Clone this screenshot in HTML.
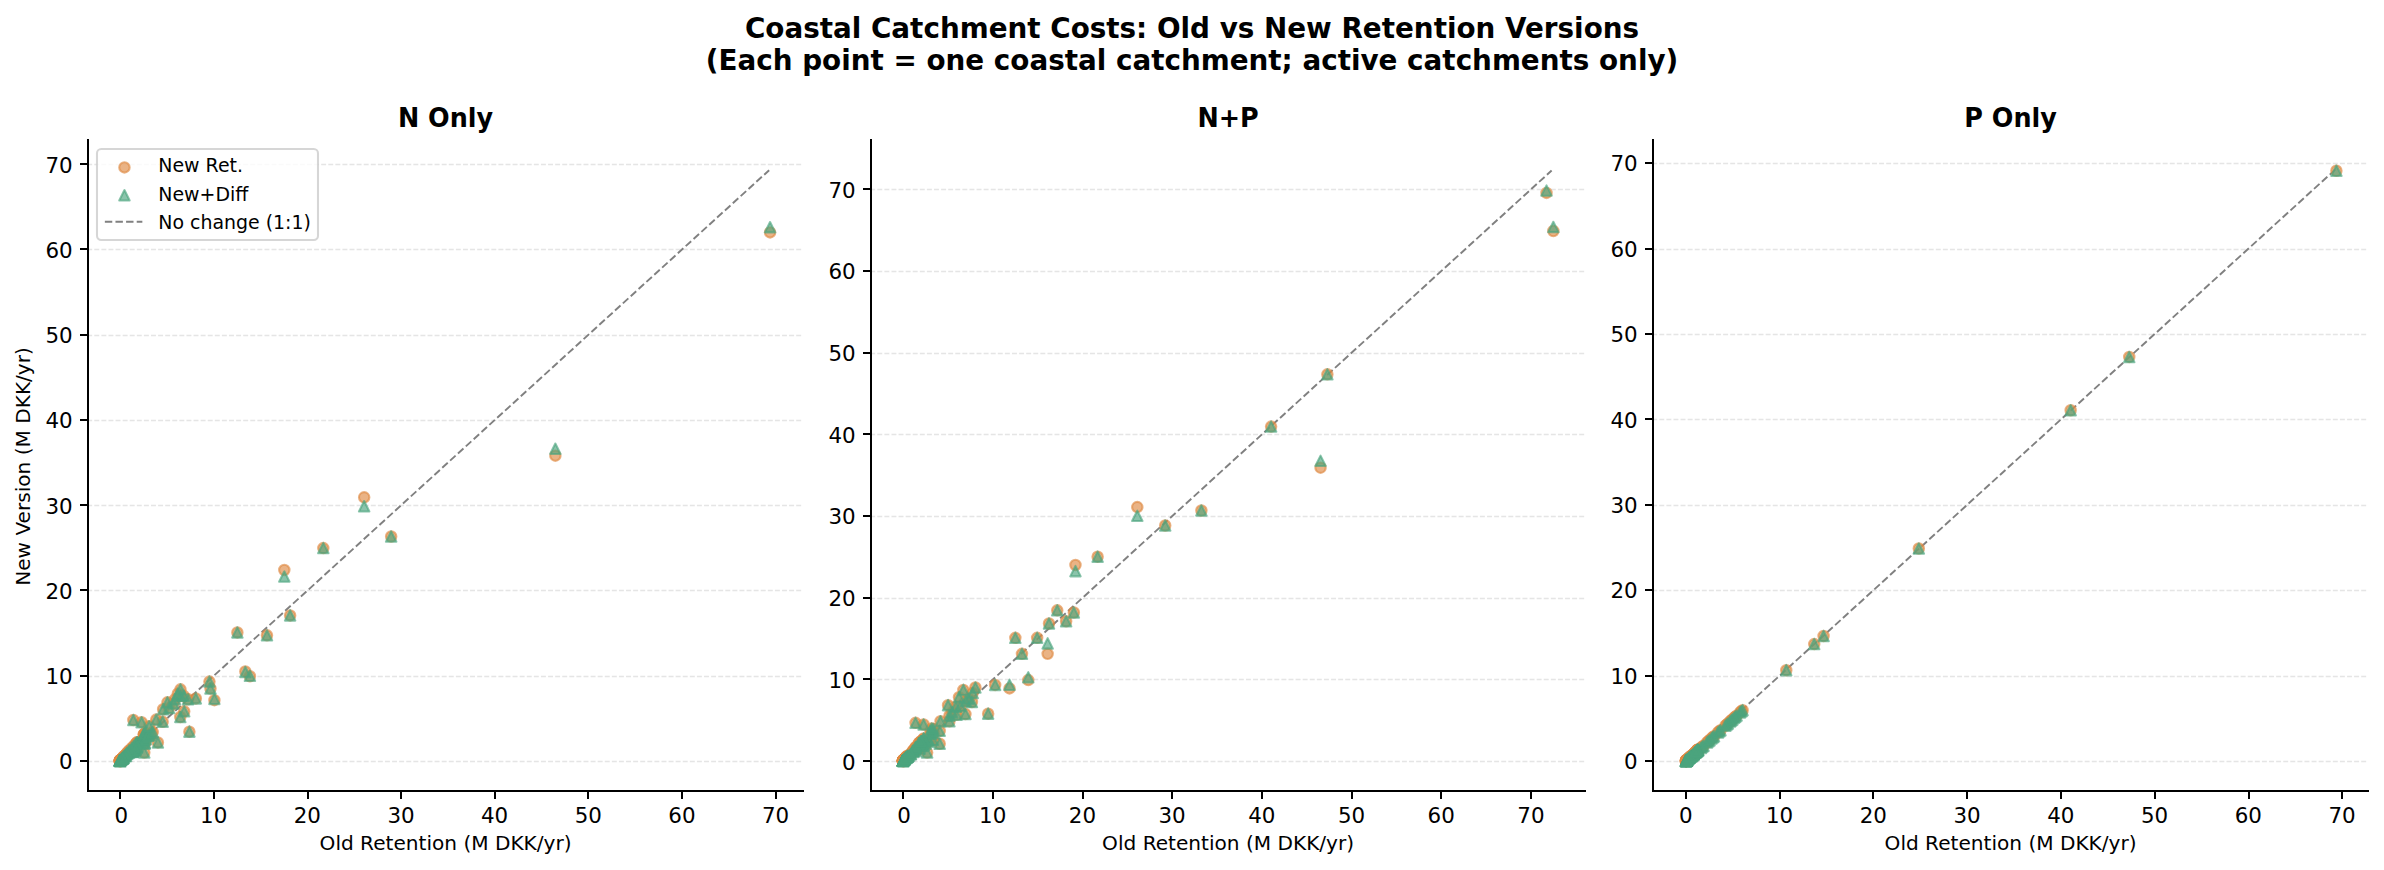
<!DOCTYPE html>
<html lang="en"><head><meta charset="utf-8"><title>Coastal Catchment Costs: Old vs New Retention Versions</title>
<style>html,body{margin:0;padding:0;background:#fff;}body{width:2384px;height:870px;overflow:hidden;}svg{display:block;}</style>
</head><body>
<svg width="2384" height="870" viewBox="0 0 2384 870" font-family='"DejaVu Sans", "Liberation Sans", sans-serif'>
<rect width="2384" height="870" fill="#fff"/>
<g font-weight="bold" font-size="27.8" text-anchor="middle" fill="#000">
<text x="1192" y="37.6">Coastal Catchment Costs: Old vs New Retention Versions</text>
<text x="1192" y="69.8">(Each point = one coastal catchment; active catchments only)</text>
</g>
<g id="panel1">
<g stroke="#b0b0b0" stroke-opacity="0.33" stroke-width="1.33" stroke-dasharray="4.95 2.14" fill="none">
<path d="M87.2 761.5H803.1"/>
<path d="M87.2 676.5H803.1"/>
<path d="M87.2 590.5H803.1"/>
<path d="M87.2 505.5H803.1"/>
<path d="M87.2 420.5H803.1"/>
<path d="M87.2 335.5H803.1"/>
<path d="M87.2 249.5H803.1"/>
<path d="M87.2 164.5H803.1"/>
</g>
<path d="M120.3 760.95L769.16 170.17" stroke="#808080" stroke-width="1.92" stroke-dasharray="7.42 3.2" fill="none"/>
<g fill="#DE8B44" stroke="#DE8B44" fill-opacity="0.65" stroke-opacity="0.65" stroke-width="2.08">
<circle cx="180.67" cy="695.84" r="5.21"/>
<circle cx="175.04" cy="699.25" r="5.21"/>
<circle cx="122.19" cy="758.47" r="5.21"/>
<circle cx="125.09" cy="755.74" r="5.21"/>
<circle cx="133.43" cy="751.23" r="5.21"/>
<circle cx="119.75" cy="760.6" r="5.21"/>
<circle cx="122.56" cy="758.47" r="5.21"/>
<circle cx="151.33" cy="733.42" r="5.21"/>
<circle cx="142.9" cy="740.66" r="5.21"/>
<circle cx="134" cy="750.37" r="5.21"/>
<circle cx="133.81" cy="746.03" r="5.21"/>
<circle cx="129.68" cy="750.89" r="5.21"/>
<circle cx="135.31" cy="749.95" r="5.21"/>
<circle cx="139.15" cy="742.96" r="5.21"/>
<circle cx="123.41" cy="758.13" r="5.21"/>
<circle cx="144.3" cy="739.47" r="5.21"/>
<circle cx="137.37" cy="742.37" r="5.21"/>
<circle cx="137.09" cy="742.19" r="5.21"/>
<circle cx="125.75" cy="754.55" r="5.21"/>
<circle cx="127.15" cy="752.76" r="5.21"/>
<circle cx="144.96" cy="742.96" r="5.21"/>
<circle cx="120.59" cy="759.92" r="5.21"/>
<circle cx="149.65" cy="735.29" r="5.21"/>
<circle cx="133.53" cy="749.78" r="5.21"/>
<circle cx="129.12" cy="752.85" r="5.21"/>
<circle cx="124.62" cy="756.17" r="5.21"/>
<circle cx="131.84" cy="747.9" r="5.21"/>
<circle cx="135.78" cy="743.64" r="5.21"/>
<circle cx="143.84" cy="734.36" r="5.21"/>
<circle cx="135.31" cy="749.35" r="5.21"/>
<circle cx="144.12" cy="734.44" r="5.21"/>
<circle cx="146.37" cy="736.57" r="5.21"/>
<circle cx="137.09" cy="747.65" r="5.21"/>
<circle cx="142.62" cy="739.89" r="5.21"/>
<circle cx="123.03" cy="758.3" r="5.21"/>
<circle cx="143.74" cy="734.53" r="5.21"/>
<circle cx="120.12" cy="760.17" r="5.21"/>
<circle cx="126.12" cy="756" r="5.21"/>
<circle cx="123.31" cy="757.11" r="5.21"/>
<circle cx="144.68" cy="743.81" r="5.21"/>
<circle cx="133.06" cy="751.65" r="5.21"/>
<circle cx="137.28" cy="746.54" r="5.21"/>
<circle cx="145.15" cy="733.16" r="5.21"/>
<circle cx="129.12" cy="750.46" r="5.21"/>
<circle cx="123.59" cy="757.96" r="5.21"/>
<circle cx="132.4" cy="752.08" r="5.21"/>
<circle cx="121.44" cy="759.15" r="5.21"/>
<circle cx="132.87" cy="751.14" r="5.21"/>
<circle cx="119.84" cy="760.51" r="5.21"/>
<circle cx="123.69" cy="756.34" r="5.21"/>
<circle cx="145.9" cy="739.13" r="5.21"/>
<circle cx="127.62" cy="753.61" r="5.21"/>
<circle cx="134.18" cy="747.39" r="5.21"/>
<circle cx="130.9" cy="750.2" r="5.21"/>
<circle cx="148.33" cy="735.63" r="5.21"/>
<circle cx="126.78" cy="753.78" r="5.21"/>
<circle cx="122.19" cy="758.73" r="5.21"/>
<circle cx="119.75" cy="760.6" r="5.21"/>
<circle cx="119.75" cy="760.6" r="5.21"/>
<circle cx="119.75" cy="760.6" r="5.21"/>
<circle cx="119.75" cy="760.6" r="5.21"/>
<circle cx="120.69" cy="760.17" r="5.21"/>
<circle cx="121.62" cy="759.75" r="5.21"/>
<circle cx="120.22" cy="761.45" r="5.21"/>
<circle cx="122.56" cy="758.47" r="5.21"/>
<circle cx="770.07" cy="232.38" r="5.21"/>
<circle cx="555.36" cy="455.63" r="5.21"/>
<circle cx="364.17" cy="497.3" r="5.21"/>
<circle cx="391.16" cy="536.5" r="5.21"/>
<circle cx="323.31" cy="548.09" r="5.21"/>
<circle cx="284.32" cy="569.99" r="5.21"/>
<circle cx="290.13" cy="615.4" r="5.21"/>
<circle cx="237.37" cy="632.44" r="5.21"/>
<circle cx="266.98" cy="635.34" r="5.21"/>
<circle cx="245.33" cy="671.39" r="5.21"/>
<circle cx="249.93" cy="676.24" r="5.21"/>
<circle cx="209.44" cy="681.61" r="5.21"/>
<circle cx="210.47" cy="688.51" r="5.21"/>
<circle cx="214.41" cy="700.19" r="5.21"/>
<circle cx="180.48" cy="689.36" r="5.21"/>
<circle cx="195.85" cy="698.4" r="5.21"/>
<circle cx="177.76" cy="693.71" r="5.21"/>
<circle cx="183.76" cy="695.84" r="5.21"/>
<circle cx="188.07" cy="699.33" r="5.21"/>
<circle cx="167.45" cy="702.32" r="5.21"/>
<circle cx="173.45" cy="703.59" r="5.21"/>
<circle cx="163.14" cy="709.22" r="5.21"/>
<circle cx="169.14" cy="707.94" r="5.21"/>
<circle cx="184.23" cy="711.35" r="5.21"/>
<circle cx="180.29" cy="716.97" r="5.21"/>
<circle cx="189.38" cy="731.63" r="5.21"/>
<circle cx="156.21" cy="719.61" r="5.21"/>
<circle cx="162.67" cy="721.74" r="5.21"/>
<circle cx="152.74" cy="732.05" r="5.21"/>
<circle cx="157.89" cy="742.45" r="5.21"/>
<circle cx="144.3" cy="752.51" r="5.21"/>
<circle cx="133.34" cy="720.04" r="5.21"/>
<circle cx="141.59" cy="722.26" r="5.21"/>
<circle cx="149.18" cy="726.26" r="5.21"/>
</g>
<g fill="#4CA47E" stroke="#4CA47E" fill-opacity="0.65" stroke-opacity="0.65" stroke-width="2.08" stroke-linejoin="round">
<path d="M180.67 690.63L175.46 701.05L185.88 701.05Z"/>
<path d="M175.04 694.04L169.84 704.46L180.25 704.46Z"/>
<path d="M122.19 753.26L116.98 763.68L127.4 763.68Z"/>
<path d="M125.09 750.53L119.88 760.95L130.3 760.95Z"/>
<path d="M133.43 746.02L128.22 756.44L138.64 756.44Z"/>
<path d="M119.75 755.39L114.54 765.81L124.96 765.81Z"/>
<path d="M122.56 753.26L117.35 763.68L127.77 763.68Z"/>
<path d="M151.33 728.21L146.13 738.63L156.54 738.63Z"/>
<path d="M142.9 735.45L137.69 745.87L148.11 745.87Z"/>
<path d="M134 745.17L128.79 755.58L139.2 755.58Z"/>
<path d="M133.81 740.82L128.6 751.24L139.02 751.24Z"/>
<path d="M129.68 745.68L124.48 756.09L134.89 756.09Z"/>
<path d="M135.31 744.74L130.1 755.16L140.52 755.16Z"/>
<path d="M139.15 737.75L133.94 748.17L144.36 748.17Z"/>
<path d="M123.41 752.92L118.2 763.34L128.61 763.34Z"/>
<path d="M144.3 734.26L139.1 744.68L149.51 744.68Z"/>
<path d="M137.37 737.16L132.16 747.57L142.58 747.57Z"/>
<path d="M137.09 736.99L131.88 747.4L142.3 747.4Z"/>
<path d="M125.75 749.34L120.54 759.76L130.96 759.76Z"/>
<path d="M127.15 747.55L121.95 757.97L132.36 757.97Z"/>
<path d="M144.96 737.75L139.75 748.17L150.17 748.17Z"/>
<path d="M120.59 754.71L115.39 765.13L125.8 765.13Z"/>
<path d="M149.65 730.08L144.44 740.5L154.86 740.5Z"/>
<path d="M133.53 744.57L128.32 754.99L138.74 754.99Z"/>
<path d="M129.12 747.64L123.91 758.05L134.33 758.05Z"/>
<path d="M124.62 750.96L119.42 761.38L129.83 761.38Z"/>
<path d="M131.84 742.7L126.63 753.11L137.05 753.11Z"/>
<path d="M135.78 738.43L130.57 748.85L140.98 748.85Z"/>
<path d="M143.84 729.15L138.63 739.56L149.04 739.56Z"/>
<path d="M135.31 744.14L130.1 754.56L140.52 754.56Z"/>
<path d="M144.12 729.23L138.91 739.65L149.33 739.65Z"/>
<path d="M146.37 731.36L141.16 741.78L151.57 741.78Z"/>
<path d="M137.09 742.44L131.88 752.86L142.3 752.86Z"/>
<path d="M142.62 734.69L137.41 745.1L147.83 745.1Z"/>
<path d="M123.03 753.09L117.82 763.51L128.24 763.51Z"/>
<path d="M143.74 729.32L138.53 739.73L148.95 739.73Z"/>
<path d="M120.12 754.97L114.92 765.38L125.33 765.38Z"/>
<path d="M126.12 750.79L120.91 761.21L131.33 761.21Z"/>
<path d="M123.31 751.9L118.1 762.31L128.52 762.31Z"/>
<path d="M144.68 738.61L139.47 749.02L149.89 749.02Z"/>
<path d="M133.06 746.44L127.85 756.86L138.27 756.86Z"/>
<path d="M137.28 741.33L132.07 751.75L142.48 751.75Z"/>
<path d="M145.15 727.95L139.94 738.37L150.36 738.37Z"/>
<path d="M129.12 745.25L123.91 755.67L134.33 755.67Z"/>
<path d="M123.59 752.75L118.38 763.17L128.8 763.17Z"/>
<path d="M132.4 746.87L127.19 757.29L137.61 757.29Z"/>
<path d="M121.44 753.94L116.23 764.36L126.65 764.36Z"/>
<path d="M132.87 745.93L127.66 756.35L138.08 756.35Z"/>
<path d="M119.84 755.31L114.64 765.72L125.05 765.72Z"/>
<path d="M123.69 751.13L118.48 761.55L128.89 761.55Z"/>
<path d="M145.9 733.92L140.69 744.34L151.11 744.34Z"/>
<path d="M127.62 748.4L122.41 758.82L132.83 758.82Z"/>
<path d="M134.18 742.18L128.97 752.6L139.39 752.6Z"/>
<path d="M130.9 745L125.69 755.41L136.11 755.41Z"/>
<path d="M148.33 730.43L143.13 740.84L153.54 740.84Z"/>
<path d="M126.78 748.57L121.57 758.99L131.99 758.99Z"/>
<path d="M122.19 753.52L116.98 763.93L127.4 763.93Z"/>
<path d="M119.75 755.39L114.54 765.81L124.96 765.81Z"/>
<path d="M119.75 755.39L114.54 765.81L124.96 765.81Z"/>
<path d="M119.75 755.39L114.54 765.81L124.96 765.81Z"/>
<path d="M119.75 755.39L114.54 765.81L124.96 765.81Z"/>
<path d="M120.69 754.97L115.48 765.38L125.9 765.38Z"/>
<path d="M121.62 754.54L116.42 764.96L126.83 764.96Z"/>
<path d="M120.22 756.24L115.01 766.66L125.43 766.66Z"/>
<path d="M122.56 753.26L117.35 763.68L127.77 763.68Z"/>
<path d="M770.07 221.98L764.86 232.39L775.28 232.39Z"/>
<path d="M555.36 443.52L550.15 453.94L560.57 453.94Z"/>
<path d="M364.17 501.04L358.96 511.46L369.38 511.46Z"/>
<path d="M391.16 531.29L385.95 541.71L396.37 541.71Z"/>
<path d="M323.31 542.88L318.1 553.29L328.52 553.29Z"/>
<path d="M284.32 571.34L279.11 581.75L289.53 581.75Z"/>
<path d="M290.13 610.19L284.92 620.61L295.34 620.61Z"/>
<path d="M237.37 627.24L232.16 637.65L242.58 637.65Z"/>
<path d="M266.98 630.13L261.78 640.55L272.19 640.55Z"/>
<path d="M245.33 666.77L240.13 677.19L250.54 677.19Z"/>
<path d="M249.93 670.61L244.72 681.02L255.14 681.02Z"/>
<path d="M209.44 676.4L204.23 686.82L214.65 686.82Z"/>
<path d="M210.47 683.3L205.26 693.72L215.68 693.72Z"/>
<path d="M214.41 693.7L209.2 704.12L219.62 704.12Z"/>
<path d="M180.48 684.16L175.27 694.57L185.69 694.57Z"/>
<path d="M195.85 693.19L190.64 703.61L201.06 703.61Z"/>
<path d="M177.76 688.5L172.55 698.92L182.97 698.92Z"/>
<path d="M183.76 690.63L178.55 701.05L188.97 701.05Z"/>
<path d="M188.07 694.13L182.86 704.54L193.28 704.54Z"/>
<path d="M167.45 697.11L162.25 707.52L172.66 707.52Z"/>
<path d="M173.45 698.39L168.24 708.8L178.66 708.8Z"/>
<path d="M163.14 704.01L157.93 714.43L168.35 714.43Z"/>
<path d="M169.14 702.73L163.93 713.15L174.35 713.15Z"/>
<path d="M184.23 706.14L179.02 716.56L189.44 716.56Z"/>
<path d="M180.29 711.76L175.08 722.18L185.5 722.18Z"/>
<path d="M189.38 726.42L184.18 736.84L194.59 736.84Z"/>
<path d="M156.21 714.41L151 724.82L161.42 724.82Z"/>
<path d="M162.67 716.54L157.47 726.95L167.88 726.95Z"/>
<path d="M152.74 726.85L147.53 737.26L157.95 737.26Z"/>
<path d="M157.89 737.24L152.69 747.66L163.1 747.66Z"/>
<path d="M144.3 747.3L139.1 757.71L149.51 757.71Z"/>
<path d="M133.34 714.83L128.13 725.25L138.55 725.25Z"/>
<path d="M141.59 717.05L136.38 727.46L146.8 727.46Z"/>
<path d="M149.18 721.05L143.97 731.47L154.39 731.47Z"/>
</g>
<g stroke="#000" stroke-width="2" fill="none">
<path d="M88 139V792"/>
<path d="M87 791H804"/>
</g>
<g stroke="#000" stroke-width="2" fill="none">
<path d="M120 791v8"/>
<path d="M214 791v8"/>
<path d="M308 791v8"/>
<path d="M401 791v8"/>
<path d="M495 791v8"/>
<path d="M588 791v8"/>
<path d="M682 791v8"/>
<path d="M776 791v8"/>
<path d="M88 761h-8"/>
<path d="M88 676h-8"/>
<path d="M88 590h-8"/>
<path d="M88 505h-8"/>
<path d="M88 420h-8"/>
<path d="M88 335h-8"/>
<path d="M88 249h-8"/>
<path d="M88 164h-8"/>
</g>
<g font-size="21.4" fill="#000">
<g text-anchor="middle">
<text x="121.2" y="822.8">0</text>
<text x="213.73" y="822.8">10</text>
<text x="307.36" y="822.8">20</text>
<text x="400.99" y="822.8">30</text>
<text x="494.62" y="822.8">40</text>
<text x="588.25" y="822.8">50</text>
<text x="681.88" y="822.8">60</text>
<text x="775.51" y="822.8">70</text>
</g>
<g text-anchor="end">
<text x="72.6" y="768.85">0</text>
<text x="72.6" y="683.85">10</text>
<text x="72.6" y="598.85">20</text>
<text x="72.6" y="513.85">30</text>
<text x="72.6" y="427.85">40</text>
<text x="72.6" y="342.85">50</text>
<text x="72.6" y="257.85">60</text>
<text x="72.6" y="172.85">70</text>
</g></g>
<text transform="translate(445.55 126.9) scale(1 1.07)" font-size="25.45" font-weight="bold" text-anchor="middle">N Only</text>
<text x="445.55" y="849.8" font-size="20.1" text-anchor="middle">Old Retention (M DKK/yr)</text>
<text transform="translate(30 466.5) rotate(-90)" font-size="20.1" text-anchor="middle">New Version (M DKK/yr)</text>
</g>
<g id="panel2">
<g stroke="#b0b0b0" stroke-opacity="0.33" stroke-width="1.33" stroke-dasharray="4.95 2.14" fill="none">
<path d="M870.2 761.5H1585.2"/>
<path d="M870.2 679.5H1585.2"/>
<path d="M870.2 598.5H1585.2"/>
<path d="M870.2 516.5H1585.2"/>
<path d="M870.2 434.5H1585.2"/>
<path d="M870.2 353.5H1585.2"/>
<path d="M870.2 271.5H1585.2"/>
<path d="M870.2 189.5H1585.2"/>
</g>
<path d="M903.2 761.2L1551.64 170.52" stroke="#808080" stroke-width="1.92" stroke-dasharray="7.42 3.2" fill="none"/>
<g fill="#DE8B44" stroke="#DE8B44" fill-opacity="0.65" stroke-opacity="0.65" stroke-width="2.08">
<circle cx="965.72" cy="700.99" r="5.21"/>
<circle cx="960.33" cy="705.89" r="5.21"/>
<circle cx="952.26" cy="712.42" r="5.21"/>
<circle cx="916.27" cy="747.37" r="5.21"/>
<circle cx="923.72" cy="738.39" r="5.21"/>
<circle cx="921.21" cy="741.25" r="5.21"/>
<circle cx="902.99" cy="760.52" r="5.21"/>
<circle cx="931.17" cy="733.82" r="5.21"/>
<circle cx="928.92" cy="741.65" r="5.21"/>
<circle cx="910.98" cy="754.31" r="5.21"/>
<circle cx="913.4" cy="750.96" r="5.21"/>
<circle cx="902.9" cy="760.6" r="5.21"/>
<circle cx="906.04" cy="757.25" r="5.21"/>
<circle cx="922.28" cy="746.06" r="5.21"/>
<circle cx="923.81" cy="745.17" r="5.21"/>
<circle cx="916.09" cy="750.88" r="5.21"/>
<circle cx="902.9" cy="760.6" r="5.21"/>
<circle cx="904.78" cy="759.13" r="5.21"/>
<circle cx="933.32" cy="729" r="5.21"/>
<circle cx="906.31" cy="757.01" r="5.21"/>
<circle cx="913.22" cy="750.72" r="5.21"/>
<circle cx="904.69" cy="758.64" r="5.21"/>
<circle cx="919.05" cy="743.21" r="5.21"/>
<circle cx="928.57" cy="739.94" r="5.21"/>
<circle cx="907.93" cy="756.84" r="5.21"/>
<circle cx="903.89" cy="759.87" r="5.21"/>
<circle cx="906.49" cy="757.25" r="5.21"/>
<circle cx="902.9" cy="760.6" r="5.21"/>
<circle cx="907.39" cy="757.01" r="5.21"/>
<circle cx="924.8" cy="741.33" r="5.21"/>
<circle cx="906.85" cy="757.17" r="5.21"/>
<circle cx="919.59" cy="748.76" r="5.21"/>
<circle cx="932.87" cy="739.86" r="5.21"/>
<circle cx="921.57" cy="741.33" r="5.21"/>
<circle cx="902.9" cy="760.6" r="5.21"/>
<circle cx="908.02" cy="755.86" r="5.21"/>
<circle cx="902.9" cy="760.6" r="5.21"/>
<circle cx="904.34" cy="759.05" r="5.21"/>
<circle cx="904.61" cy="758.97" r="5.21"/>
<circle cx="930.45" cy="731.2" r="5.21"/>
<circle cx="907.48" cy="756.76" r="5.21"/>
<circle cx="912.77" cy="750.8" r="5.21"/>
<circle cx="903.44" cy="760.03" r="5.21"/>
<circle cx="923.81" cy="738.96" r="5.21"/>
<circle cx="902.99" cy="760.52" r="5.21"/>
<circle cx="903.35" cy="760.27" r="5.21"/>
<circle cx="915.82" cy="746.88" r="5.21"/>
<circle cx="907.39" cy="755.78" r="5.21"/>
<circle cx="913.4" cy="752.03" r="5.21"/>
<circle cx="906.85" cy="757.58" r="5.21"/>
<circle cx="903.26" cy="760.36" r="5.21"/>
<circle cx="918.96" cy="743.04" r="5.21"/>
<circle cx="904.07" cy="759.78" r="5.21"/>
<circle cx="933.59" cy="733" r="5.21"/>
<circle cx="909.09" cy="755.78" r="5.21"/>
<circle cx="915.19" cy="748.02" r="5.21"/>
<circle cx="910.53" cy="754.07" r="5.21"/>
<circle cx="903.08" cy="760.44" r="5.21"/>
<circle cx="902.99" cy="760.52" r="5.21"/>
<circle cx="925.78" cy="743.78" r="5.21"/>
<circle cx="920.76" cy="741.41" r="5.21"/>
<circle cx="902.9" cy="760.6" r="5.21"/>
<circle cx="902.9" cy="760.6" r="5.21"/>
<circle cx="902.9" cy="760.6" r="5.21"/>
<circle cx="902.9" cy="760.6" r="5.21"/>
<circle cx="903.8" cy="760.19" r="5.21"/>
<circle cx="904.69" cy="759.78" r="5.21"/>
<circle cx="903.35" cy="761.42" r="5.21"/>
<circle cx="905.59" cy="758.56" r="5.21"/>
<circle cx="1546.52" cy="192.9" r="5.21"/>
<circle cx="1553.34" cy="231.03" r="5.21"/>
<circle cx="1327.37" cy="374.35" r="5.21"/>
<circle cx="1271.1" cy="426.61" r="5.21"/>
<circle cx="1320.55" cy="467.69" r="5.21"/>
<circle cx="1137.3" cy="507.05" r="5.21"/>
<circle cx="1165.21" cy="525.5" r="5.21"/>
<circle cx="1201.38" cy="510.48" r="5.21"/>
<circle cx="1097.64" cy="556.69" r="5.21"/>
<circle cx="1075.47" cy="565.02" r="5.21"/>
<circle cx="1057.25" cy="610.35" r="5.21"/>
<circle cx="1073.85" cy="612.47" r="5.21"/>
<circle cx="1066.14" cy="621.29" r="5.21"/>
<circle cx="1049" cy="623.49" r="5.21"/>
<circle cx="1015.34" cy="637.87" r="5.21"/>
<circle cx="1037.15" cy="637.87" r="5.21"/>
<circle cx="1047.65" cy="653.87" r="5.21"/>
<circle cx="1021.98" cy="653.87" r="5.21"/>
<circle cx="1028.27" cy="680.08" r="5.21"/>
<circle cx="1009.51" cy="688.41" r="5.21"/>
<circle cx="995.15" cy="684.9" r="5.21"/>
<circle cx="988.15" cy="713.65" r="5.21"/>
<circle cx="975.41" cy="687.51" r="5.21"/>
<circle cx="963.38" cy="689.88" r="5.21"/>
<circle cx="972.72" cy="693.07" r="5.21"/>
<circle cx="958.99" cy="697.15" r="5.21"/>
<circle cx="968.68" cy="698.7" r="5.21"/>
<circle cx="971.91" cy="701.97" r="5.21"/>
<circle cx="948.04" cy="705.15" r="5.21"/>
<circle cx="955.85" cy="706.7" r="5.21"/>
<circle cx="965.45" cy="714.05" r="5.21"/>
<circle cx="949.39" cy="715.69" r="5.21"/>
<circle cx="956.56" cy="714.87" r="5.21"/>
<circle cx="940.5" cy="721.24" r="5.21"/>
<circle cx="949.39" cy="721.24" r="5.21"/>
<circle cx="915.55" cy="722.87" r="5.21"/>
<circle cx="923.63" cy="724.51" r="5.21"/>
<circle cx="931.62" cy="728.51" r="5.21"/>
<circle cx="939.69" cy="730.88" r="5.21"/>
<circle cx="939.69" cy="743.78" r="5.21"/>
<circle cx="927.13" cy="752.6" r="5.21"/>
</g>
<g fill="#4CA47E" stroke="#4CA47E" fill-opacity="0.65" stroke-opacity="0.65" stroke-width="2.08" stroke-linejoin="round">
<path d="M965.72 695.78L960.51 706.2L970.93 706.2Z"/>
<path d="M960.33 700.68L955.13 711.1L965.54 711.1Z"/>
<path d="M952.26 707.21L947.05 717.63L957.47 717.63Z"/>
<path d="M916.27 742.16L911.06 752.58L921.48 752.58Z"/>
<path d="M923.72 733.18L918.51 743.6L928.93 743.6Z"/>
<path d="M921.21 736.04L916 746.45L926.42 746.45Z"/>
<path d="M902.99 755.31L897.78 765.73L908.2 765.73Z"/>
<path d="M931.17 728.61L925.96 739.02L936.38 739.02Z"/>
<path d="M928.92 736.45L923.72 746.86L934.13 746.86Z"/>
<path d="M910.98 749.1L905.77 759.52L916.18 759.52Z"/>
<path d="M913.4 745.76L908.19 756.17L918.61 756.17Z"/>
<path d="M902.9 755.39L897.69 765.81L908.11 765.81Z"/>
<path d="M906.04 752.04L900.83 762.46L911.25 762.46Z"/>
<path d="M922.28 740.86L917.08 751.27L927.49 751.27Z"/>
<path d="M923.81 739.96L918.6 750.37L929.02 750.37Z"/>
<path d="M916.09 745.67L910.88 756.09L921.3 756.09Z"/>
<path d="M902.9 755.39L897.69 765.81L908.11 765.81Z"/>
<path d="M904.78 753.92L899.58 764.34L909.99 764.34Z"/>
<path d="M933.32 723.79L928.11 734.21L938.53 734.21Z"/>
<path d="M906.31 751.8L901.1 762.22L911.52 762.22Z"/>
<path d="M913.22 745.51L908.01 755.93L918.43 755.93Z"/>
<path d="M904.69 753.43L899.49 763.85L909.9 763.85Z"/>
<path d="M919.05 738L913.84 748.41L924.26 748.41Z"/>
<path d="M928.57 734.73L923.36 745.15L933.77 745.15Z"/>
<path d="M907.93 751.64L902.72 762.05L913.13 762.05Z"/>
<path d="M903.89 754.66L898.68 765.07L909.1 765.07Z"/>
<path d="M906.49 752.04L901.28 762.46L911.7 762.46Z"/>
<path d="M902.9 755.39L897.69 765.81L908.11 765.81Z"/>
<path d="M907.39 751.8L902.18 762.22L912.6 762.22Z"/>
<path d="M924.8 736.12L919.59 746.54L930 746.54Z"/>
<path d="M906.85 751.96L901.64 762.38L912.06 762.38Z"/>
<path d="M919.59 743.55L914.38 753.97L924.8 753.97Z"/>
<path d="M932.87 734.65L927.66 745.07L938.08 745.07Z"/>
<path d="M921.57 736.12L916.36 746.54L926.77 746.54Z"/>
<path d="M902.9 755.39L897.69 765.81L908.11 765.81Z"/>
<path d="M908.02 750.66L902.81 761.07L913.22 761.07Z"/>
<path d="M902.9 755.39L897.69 765.81L908.11 765.81Z"/>
<path d="M904.34 753.84L899.13 764.26L909.54 764.26Z"/>
<path d="M904.61 753.76L899.4 764.18L909.81 764.18Z"/>
<path d="M930.45 725.99L925.24 736.41L935.66 736.41Z"/>
<path d="M907.48 751.55L902.27 761.97L912.69 761.97Z"/>
<path d="M912.77 745.59L907.56 756.01L917.98 756.01Z"/>
<path d="M903.44 754.82L898.23 765.24L908.65 765.24Z"/>
<path d="M923.81 733.75L918.6 744.17L929.02 744.17Z"/>
<path d="M902.99 755.31L897.78 765.73L908.2 765.73Z"/>
<path d="M903.35 755.07L898.14 765.48L908.56 765.48Z"/>
<path d="M915.82 741.67L910.61 752.09L921.03 752.09Z"/>
<path d="M907.39 750.57L902.18 760.99L912.6 760.99Z"/>
<path d="M913.4 746.82L908.19 757.23L918.61 757.23Z"/>
<path d="M906.85 752.37L901.64 762.79L912.06 762.79Z"/>
<path d="M903.26 755.15L898.05 765.56L908.47 765.56Z"/>
<path d="M918.96 737.83L913.76 748.25L924.17 748.25Z"/>
<path d="M904.07 754.58L898.86 764.99L909.27 764.99Z"/>
<path d="M933.59 727.79L928.38 738.21L938.8 738.21Z"/>
<path d="M909.09 750.57L903.88 760.99L914.3 760.99Z"/>
<path d="M915.19 742.82L909.99 753.23L920.4 753.23Z"/>
<path d="M910.53 748.86L905.32 759.28L915.74 759.28Z"/>
<path d="M903.08 755.23L897.87 765.65L908.29 765.65Z"/>
<path d="M902.99 755.31L897.78 765.73L908.2 765.73Z"/>
<path d="M925.78 738.57L920.58 748.99L930.99 748.99Z"/>
<path d="M920.76 736.2L915.55 746.62L925.97 746.62Z"/>
<path d="M902.9 755.39L897.69 765.81L908.11 765.81Z"/>
<path d="M902.9 755.39L897.69 765.81L908.11 765.81Z"/>
<path d="M902.9 755.39L897.69 765.81L908.11 765.81Z"/>
<path d="M902.9 755.39L897.69 765.81L908.11 765.81Z"/>
<path d="M903.8 754.98L898.59 765.4L909.01 765.4Z"/>
<path d="M904.69 754.58L899.49 764.99L909.9 764.99Z"/>
<path d="M903.35 756.21L898.14 766.62L908.56 766.62Z"/>
<path d="M905.59 753.35L900.38 763.77L910.8 763.77Z"/>
<path d="M1546.52 185.4L1541.31 195.82L1551.72 195.82Z"/>
<path d="M1553.34 221.74L1548.13 232.16L1558.54 232.16Z"/>
<path d="M1327.37 369.14L1322.16 379.56L1332.58 379.56Z"/>
<path d="M1271.1 421.4L1265.89 431.82L1276.31 431.82Z"/>
<path d="M1320.55 455.62L1315.34 466.03L1325.76 466.03Z"/>
<path d="M1137.3 510.66L1132.09 521.07L1142.51 521.07Z"/>
<path d="M1165.21 520.29L1160 530.71L1170.42 530.71Z"/>
<path d="M1201.38 505.27L1196.17 515.68L1206.58 515.68Z"/>
<path d="M1097.64 551.49L1092.43 561.9L1102.84 561.9Z"/>
<path d="M1075.47 565.94L1070.26 576.36L1080.68 576.36Z"/>
<path d="M1057.25 605.14L1052.04 615.55L1062.46 615.55Z"/>
<path d="M1073.85 607.26L1068.65 617.68L1079.06 617.68Z"/>
<path d="M1066.14 616.08L1060.93 626.5L1071.35 626.5Z"/>
<path d="M1049 618.28L1043.79 628.7L1054.21 628.7Z"/>
<path d="M1015.34 632.66L1010.14 643.07L1020.55 643.07Z"/>
<path d="M1037.15 632.66L1031.94 643.07L1042.36 643.07Z"/>
<path d="M1047.65 638.21L1042.44 648.63L1052.86 648.63Z"/>
<path d="M1021.98 648.66L1016.78 659.08L1027.19 659.08Z"/>
<path d="M1028.27 672.1L1023.06 682.52L1033.48 682.52Z"/>
<path d="M1009.51 679.61L1004.3 690.03L1014.72 690.03Z"/>
<path d="M995.15 679.69L989.94 690.11L1000.36 690.11Z"/>
<path d="M988.15 708.44L982.94 718.85L993.36 718.85Z"/>
<path d="M975.41 682.31L970.2 692.72L980.62 692.72Z"/>
<path d="M963.38 684.67L958.18 695.09L968.59 695.09Z"/>
<path d="M972.72 687.86L967.51 698.28L977.93 698.28Z"/>
<path d="M958.99 691.94L953.78 702.36L964.2 702.36Z"/>
<path d="M968.68 693.49L963.47 703.91L973.89 703.91Z"/>
<path d="M971.91 696.76L966.7 707.18L977.12 707.18Z"/>
<path d="M948.04 699.94L942.83 710.36L953.25 710.36Z"/>
<path d="M955.85 701.5L950.64 711.91L961.05 711.91Z"/>
<path d="M965.45 708.85L960.24 719.26L970.66 719.26Z"/>
<path d="M949.39 710.48L944.18 720.9L954.59 720.9Z"/>
<path d="M956.56 709.66L951.36 720.08L961.77 720.08Z"/>
<path d="M940.5 716.03L935.29 726.45L945.71 726.45Z"/>
<path d="M949.39 716.03L944.18 726.45L954.59 726.45Z"/>
<path d="M915.55 717.66L910.35 728.08L920.76 728.08Z"/>
<path d="M923.63 719.3L918.42 729.71L928.84 729.71Z"/>
<path d="M931.62 723.3L926.41 733.72L936.83 733.72Z"/>
<path d="M939.69 725.67L934.49 736.08L944.9 736.08Z"/>
<path d="M939.69 738.57L934.49 748.99L944.9 748.99Z"/>
<path d="M927.13 747.39L921.92 757.81L932.34 757.81Z"/>
</g>
<g stroke="#000" stroke-width="2" fill="none">
<path d="M871 139V792"/>
<path d="M870 791H1586"/>
</g>
<g stroke="#000" stroke-width="2" fill="none">
<path d="M903 791v8"/>
<path d="M993 791v8"/>
<path d="M1083 791v8"/>
<path d="M1172 791v8"/>
<path d="M1262 791v8"/>
<path d="M1352 791v8"/>
<path d="M1441 791v8"/>
<path d="M1531 791v8"/>
<path d="M871 761h-8"/>
<path d="M871 679h-8"/>
<path d="M871 598h-8"/>
<path d="M871 516h-8"/>
<path d="M871 434h-8"/>
<path d="M871 353h-8"/>
<path d="M871 271h-8"/>
<path d="M871 189h-8"/>
</g>
<g font-size="21.4" fill="#000">
<g text-anchor="middle">
<text x="904.1" y="822.8">0</text>
<text x="992.7" y="822.8">10</text>
<text x="1082.4" y="822.8">20</text>
<text x="1172.1" y="822.8">30</text>
<text x="1261.8" y="822.8">40</text>
<text x="1351.5" y="822.8">50</text>
<text x="1441.2" y="822.8">60</text>
<text x="1530.9" y="822.8">70</text>
</g>
<g text-anchor="end">
<text x="855.6" y="769.85">0</text>
<text x="855.6" y="687.85">10</text>
<text x="855.6" y="605.85">20</text>
<text x="855.6" y="523.85">30</text>
<text x="855.6" y="442.85">40</text>
<text x="855.6" y="360.85">50</text>
<text x="855.6" y="278.85">60</text>
<text x="855.6" y="197.85">70</text>
</g></g>
<text transform="translate(1228.1 126.9) scale(1 1.07)" font-size="25.45" font-weight="bold" text-anchor="middle">N+P</text>
<text x="1228.1" y="849.8" font-size="20.1" text-anchor="middle">Old Retention (M DKK/yr)</text>
</g>
<g id="panel3">
<g stroke="#b0b0b0" stroke-opacity="0.33" stroke-width="1.33" stroke-dasharray="4.95 2.14" fill="none">
<path d="M1652.2 761.5H2368.1"/>
<path d="M1652.2 676.5H2368.1"/>
<path d="M1652.2 590.5H2368.1"/>
<path d="M1652.2 505.5H2368.1"/>
<path d="M1652.2 419.5H2368.1"/>
<path d="M1652.2 334.5H2368.1"/>
<path d="M1652.2 249.5H2368.1"/>
<path d="M1652.2 163.5H2368.1"/>
</g>
<path d="M1685.92 761L2335.75 169.11" stroke="#808080" stroke-width="1.92" stroke-dasharray="7.42 3.2" fill="none"/>
<g fill="#DE8B44" stroke="#DE8B44" fill-opacity="0.65" stroke-opacity="0.65" stroke-width="2.08">
<circle cx="1742.61" cy="710.16" r="5.21"/>
<circle cx="1741.39" cy="711.19" r="5.21"/>
<circle cx="1740.08" cy="712.38" r="5.21"/>
<circle cx="1736.61" cy="715.63" r="5.21"/>
<circle cx="1735.39" cy="716.65" r="5.21"/>
<circle cx="1734.08" cy="717.84" r="5.21"/>
<circle cx="1732.48" cy="719.38" r="5.21"/>
<circle cx="1731.27" cy="720.4" r="5.21"/>
<circle cx="1729.95" cy="721.6" r="5.21"/>
<circle cx="1727.89" cy="723.56" r="5.21"/>
<circle cx="1726.67" cy="724.59" r="5.21"/>
<circle cx="1725.36" cy="725.78" r="5.21"/>
<circle cx="1720.49" cy="730.3" r="5.21"/>
<circle cx="1719.27" cy="731.33" r="5.21"/>
<circle cx="1717.96" cy="732.52" r="5.21"/>
<circle cx="1714.02" cy="736.19" r="5.21"/>
<circle cx="1712.8" cy="737.22" r="5.21"/>
<circle cx="1711.49" cy="738.41" r="5.21"/>
<circle cx="1709.52" cy="740.29" r="5.21"/>
<circle cx="1708.3" cy="741.31" r="5.21"/>
<circle cx="1706.99" cy="742.51" r="5.21"/>
<circle cx="1703.52" cy="745.75" r="5.21"/>
<circle cx="1702.3" cy="746.77" r="5.21"/>
<circle cx="1700.99" cy="747.97" r="5.21"/>
<circle cx="1698.46" cy="750.36" r="5.21"/>
<circle cx="1697.24" cy="751.38" r="5.21"/>
<circle cx="1695.93" cy="752.58" r="5.21"/>
<circle cx="1693.87" cy="754.54" r="5.21"/>
<circle cx="1692.65" cy="755.56" r="5.21"/>
<circle cx="1691.34" cy="756.76" r="5.21"/>
<circle cx="1688.81" cy="758.21" r="5.21"/>
<circle cx="1696.49" cy="751.38" r="5.21"/>
<circle cx="1689.46" cy="757.61" r="5.21"/>
<circle cx="1686.46" cy="760.43" r="5.21"/>
<circle cx="1691.24" cy="755.82" r="5.21"/>
<circle cx="1686.09" cy="761.03" r="5.21"/>
<circle cx="1686.09" cy="760.51" r="5.21"/>
<circle cx="1692.18" cy="755.65" r="5.21"/>
<circle cx="1697.71" cy="749.76" r="5.21"/>
<circle cx="1691.62" cy="755.65" r="5.21"/>
<circle cx="1686.37" cy="761.03" r="5.21"/>
<circle cx="1689.74" cy="757.87" r="5.21"/>
<circle cx="1686.56" cy="760.69" r="5.21"/>
<circle cx="1685.9" cy="760.94" r="5.21"/>
<circle cx="1688.71" cy="758.04" r="5.21"/>
<circle cx="1689.65" cy="757.36" r="5.21"/>
<circle cx="1689.37" cy="757.61" r="5.21"/>
<circle cx="1688.9" cy="758.47" r="5.21"/>
<circle cx="1697.99" cy="749.42" r="5.21"/>
<circle cx="1694.8" cy="752.58" r="5.21"/>
<circle cx="1687.4" cy="759.83" r="5.21"/>
<circle cx="1687.21" cy="760.17" r="5.21"/>
<circle cx="1693.49" cy="754.2" r="5.21"/>
<circle cx="1694.9" cy="752.83" r="5.21"/>
<circle cx="1697.15" cy="750.27" r="5.21"/>
<circle cx="1685.9" cy="761.2" r="5.21"/>
<circle cx="1696.21" cy="751.64" r="5.21"/>
<circle cx="1697.62" cy="750.36" r="5.21"/>
<circle cx="1685.99" cy="760.69" r="5.21"/>
<circle cx="1693.68" cy="754.11" r="5.21"/>
<circle cx="1686.09" cy="760.94" r="5.21"/>
<circle cx="1697.34" cy="750.27" r="5.21"/>
<circle cx="1686.18" cy="760.94" r="5.21"/>
<circle cx="1686.09" cy="761.2" r="5.21"/>
<circle cx="1693.96" cy="753.86" r="5.21"/>
<circle cx="1690.21" cy="757.1" r="5.21"/>
<circle cx="1686.56" cy="760.17" r="5.21"/>
<circle cx="1686.18" cy="760.51" r="5.21"/>
<circle cx="1686.18" cy="760.77" r="5.21"/>
<circle cx="1686.65" cy="760.51" r="5.21"/>
<circle cx="1697.43" cy="750.1" r="5.21"/>
<circle cx="1687.31" cy="759.23" r="5.21"/>
<circle cx="1686.65" cy="760.34" r="5.21"/>
<circle cx="1695.09" cy="752.41" r="5.21"/>
<circle cx="1686.09" cy="760.26" r="5.21"/>
<circle cx="1686.65" cy="760.51" r="5.21"/>
<circle cx="1693.59" cy="754.11" r="5.21"/>
<circle cx="1687.31" cy="760.17" r="5.21"/>
<circle cx="1686.09" cy="760.69" r="5.21"/>
<circle cx="1686.84" cy="760" r="5.21"/>
<circle cx="1687.96" cy="759.15" r="5.21"/>
<circle cx="1697.24" cy="750.7" r="5.21"/>
<circle cx="1690.4" cy="756.5" r="5.21"/>
<circle cx="1686.46" cy="760.77" r="5.21"/>
<circle cx="1696.12" cy="751.3" r="5.21"/>
<circle cx="2336.39" cy="170.73" r="5.21"/>
<circle cx="2129.24" cy="356.94" r="5.21"/>
<circle cx="2070.66" cy="410.28" r="5.21"/>
<circle cx="1918.82" cy="548.53" r="5.21"/>
<circle cx="1823.59" cy="636" r="5.21"/>
<circle cx="1814.22" cy="644.11" r="5.21"/>
<circle cx="1786.28" cy="670.14" r="5.21"/>
</g>
<g fill="#4CA47E" stroke="#4CA47E" fill-opacity="0.65" stroke-opacity="0.65" stroke-width="2.08" stroke-linejoin="round">
<path d="M1742.61 704.96L1737.4 715.37L1747.81 715.37Z"/>
<path d="M1741.39 705.98L1736.18 716.4L1746.6 716.4Z"/>
<path d="M1740.08 707.17L1734.87 717.59L1745.28 717.59Z"/>
<path d="M1736.61 710.42L1731.4 720.83L1741.82 720.83Z"/>
<path d="M1735.39 711.44L1730.18 721.86L1740.6 721.86Z"/>
<path d="M1734.08 712.64L1728.87 723.05L1739.29 723.05Z"/>
<path d="M1732.48 714.17L1727.28 724.59L1737.69 724.59Z"/>
<path d="M1731.27 715.2L1726.06 725.61L1736.47 725.61Z"/>
<path d="M1729.95 716.39L1724.74 726.81L1735.16 726.81Z"/>
<path d="M1727.89 718.35L1722.68 728.77L1733.1 728.77Z"/>
<path d="M1726.67 719.38L1721.46 729.79L1731.88 729.79Z"/>
<path d="M1725.36 720.57L1720.15 730.99L1730.57 730.99Z"/>
<path d="M1720.49 725.1L1715.28 735.51L1725.69 735.51Z"/>
<path d="M1719.27 726.12L1714.06 736.54L1724.48 736.54Z"/>
<path d="M1717.96 727.31L1712.75 737.73L1723.16 737.73Z"/>
<path d="M1714.02 730.98L1708.81 741.4L1719.23 741.4Z"/>
<path d="M1712.8 732.01L1707.59 742.43L1718.01 742.43Z"/>
<path d="M1711.49 733.2L1706.28 743.62L1716.7 743.62Z"/>
<path d="M1709.52 735.08L1704.31 745.5L1714.73 745.5Z"/>
<path d="M1708.3 736.1L1703.09 746.52L1713.51 746.52Z"/>
<path d="M1706.99 737.3L1701.78 747.72L1712.2 747.72Z"/>
<path d="M1703.52 740.54L1698.31 750.96L1708.73 750.96Z"/>
<path d="M1702.3 741.57L1697.09 751.98L1707.51 751.98Z"/>
<path d="M1700.99 742.76L1695.78 753.18L1706.2 753.18Z"/>
<path d="M1698.46 745.15L1693.25 755.57L1703.67 755.57Z"/>
<path d="M1697.24 746.17L1692.03 756.59L1702.45 756.59Z"/>
<path d="M1695.93 747.37L1690.72 757.79L1701.14 757.79Z"/>
<path d="M1693.87 749.33L1688.66 759.75L1699.08 759.75Z"/>
<path d="M1692.65 750.36L1687.44 760.77L1697.86 760.77Z"/>
<path d="M1691.34 751.55L1686.13 761.97L1696.54 761.97Z"/>
<path d="M1688.81 753L1683.6 763.42L1694.01 763.42Z"/>
<path d="M1696.49 746.17L1691.28 756.59L1701.7 756.59Z"/>
<path d="M1689.46 752.4L1684.25 762.82L1694.67 762.82Z"/>
<path d="M1686.46 755.22L1681.25 765.64L1691.67 765.64Z"/>
<path d="M1691.24 750.61L1686.03 761.03L1696.45 761.03Z"/>
<path d="M1686.09 755.82L1680.88 766.24L1691.3 766.24Z"/>
<path d="M1686.09 755.31L1680.88 765.72L1691.3 765.72Z"/>
<path d="M1692.18 750.44L1686.97 760.86L1697.39 760.86Z"/>
<path d="M1697.71 744.55L1692.5 754.97L1702.92 754.97Z"/>
<path d="M1691.62 750.44L1686.41 760.86L1696.83 760.86Z"/>
<path d="M1686.37 755.82L1681.16 766.24L1691.58 766.24Z"/>
<path d="M1689.74 752.66L1684.53 763.08L1694.95 763.08Z"/>
<path d="M1686.56 755.48L1681.35 765.89L1691.76 765.89Z"/>
<path d="M1685.9 755.73L1680.69 766.15L1691.11 766.15Z"/>
<path d="M1688.71 752.83L1683.5 763.25L1693.92 763.25Z"/>
<path d="M1689.65 752.15L1684.44 762.57L1694.86 762.57Z"/>
<path d="M1689.37 752.4L1684.16 762.82L1694.58 762.82Z"/>
<path d="M1688.9 753.26L1683.69 763.67L1694.11 763.67Z"/>
<path d="M1697.99 744.21L1692.78 754.63L1703.2 754.63Z"/>
<path d="M1694.8 747.37L1689.6 757.79L1700.01 757.79Z"/>
<path d="M1687.4 754.62L1682.19 765.04L1692.61 765.04Z"/>
<path d="M1687.21 754.96L1682 765.38L1692.42 765.38Z"/>
<path d="M1693.49 748.99L1688.28 759.41L1698.7 759.41Z"/>
<path d="M1694.9 747.63L1689.69 758.04L1700.11 758.04Z"/>
<path d="M1697.15 745.07L1691.94 755.48L1702.36 755.48Z"/>
<path d="M1685.9 755.99L1680.69 766.41L1691.11 766.41Z"/>
<path d="M1696.21 746.43L1691 756.85L1701.42 756.85Z"/>
<path d="M1697.62 745.15L1692.41 755.57L1702.82 755.57Z"/>
<path d="M1685.99 755.48L1680.79 765.89L1691.2 765.89Z"/>
<path d="M1693.68 748.91L1688.47 759.32L1698.89 759.32Z"/>
<path d="M1686.09 755.73L1680.88 766.15L1691.3 766.15Z"/>
<path d="M1697.34 745.07L1692.13 755.48L1702.54 755.48Z"/>
<path d="M1686.18 755.73L1680.97 766.15L1691.39 766.15Z"/>
<path d="M1686.09 755.99L1680.88 766.41L1691.3 766.41Z"/>
<path d="M1693.96 748.65L1688.75 759.07L1699.17 759.07Z"/>
<path d="M1690.21 751.89L1685 762.31L1695.42 762.31Z"/>
<path d="M1686.56 754.96L1681.35 765.38L1691.76 765.38Z"/>
<path d="M1686.18 755.31L1680.97 765.72L1691.39 765.72Z"/>
<path d="M1686.18 755.56L1680.97 765.98L1691.39 765.98Z"/>
<path d="M1686.65 755.31L1681.44 765.72L1691.86 765.72Z"/>
<path d="M1697.43 744.89L1692.22 755.31L1702.64 755.31Z"/>
<path d="M1687.31 754.03L1682.1 764.44L1692.51 764.44Z"/>
<path d="M1686.65 755.14L1681.44 765.55L1691.86 765.55Z"/>
<path d="M1695.09 747.2L1689.88 757.62L1700.29 757.62Z"/>
<path d="M1686.09 755.05L1680.88 765.47L1691.3 765.47Z"/>
<path d="M1686.65 755.31L1681.44 765.72L1691.86 765.72Z"/>
<path d="M1693.59 748.91L1688.38 759.32L1698.79 759.32Z"/>
<path d="M1687.31 754.96L1682.1 765.38L1692.51 765.38Z"/>
<path d="M1686.09 755.48L1680.88 765.89L1691.3 765.89Z"/>
<path d="M1686.84 754.79L1681.63 765.21L1692.05 765.21Z"/>
<path d="M1687.96 753.94L1682.75 764.36L1693.17 764.36Z"/>
<path d="M1697.24 745.49L1692.03 755.91L1702.45 755.91Z"/>
<path d="M1690.4 751.3L1685.19 761.71L1695.61 761.71Z"/>
<path d="M1686.46 755.56L1681.25 765.98L1691.67 765.98Z"/>
<path d="M1696.12 746.09L1690.91 756.51L1701.32 756.51Z"/>
<path d="M2336.39 165.52L2331.18 175.94L2341.59 175.94Z"/>
<path d="M2129.24 351.73L2124.03 362.15L2134.45 362.15Z"/>
<path d="M2070.66 405.07L2065.45 415.49L2075.87 415.49Z"/>
<path d="M1918.82 543.32L1913.61 553.74L1924.03 553.74Z"/>
<path d="M1823.59 630.8L1818.38 641.21L1828.8 641.21Z"/>
<path d="M1814.22 638.9L1809.01 649.32L1819.42 649.32Z"/>
<path d="M1786.28 664.93L1781.08 675.35L1791.49 675.35Z"/>
</g>
<g stroke="#000" stroke-width="2" fill="none">
<path d="M1653 139V792"/>
<path d="M1652 791H2369"/>
</g>
<g stroke="#000" stroke-width="2" fill="none">
<path d="M1686 791v8"/>
<path d="M1780 791v8"/>
<path d="M1873 791v8"/>
<path d="M1967 791v8"/>
<path d="M2061 791v8"/>
<path d="M2155 791v8"/>
<path d="M2249 791v8"/>
<path d="M2342 791v8"/>
<path d="M1653 761h-8"/>
<path d="M1653 676h-8"/>
<path d="M1653 590h-8"/>
<path d="M1653 505h-8"/>
<path d="M1653 419h-8"/>
<path d="M1653 334h-8"/>
<path d="M1653 249h-8"/>
<path d="M1653 163h-8"/>
</g>
<g font-size="21.4" fill="#000">
<g text-anchor="middle">
<text x="1685.92" y="822.8">0</text>
<text x="1779.49" y="822.8">10</text>
<text x="1873.26" y="822.8">20</text>
<text x="1967.03" y="822.8">30</text>
<text x="2060.8" y="822.8">40</text>
<text x="2154.57" y="822.8">50</text>
<text x="2248.34" y="822.8">60</text>
<text x="2342.11" y="822.8">70</text>
</g>
<g text-anchor="end">
<text x="1637.6" y="768.85">0</text>
<text x="1637.6" y="683.85">10</text>
<text x="1637.6" y="597.85">20</text>
<text x="1637.6" y="512.85">30</text>
<text x="1637.6" y="427.85">40</text>
<text x="1637.6" y="341.85">50</text>
<text x="1637.6" y="256.85">60</text>
<text x="1637.6" y="170.85">70</text>
</g></g>
<text transform="translate(2010.55 126.9) scale(1 1.07)" font-size="25.45" font-weight="bold" text-anchor="middle">P Only</text>
<text x="2010.55" y="849.8" font-size="20.1" text-anchor="middle">Old Retention (M DKK/yr)</text>
</g>
<g id="legend">
<rect x="97" y="149" width="221" height="91" rx="4.2" ry="4.2" fill="#fff" fill-opacity="0.8" stroke="#ccc" stroke-opacity="0.8" stroke-width="2.08"/>
<g fill="#DE8B44" stroke="#DE8B44" fill-opacity="0.65" stroke-opacity="0.65" stroke-width="2.08"><circle cx="124.45" cy="167.4" r="5.21"/></g>
<g fill="#4CA47E" stroke="#4CA47E" fill-opacity="0.65" stroke-opacity="0.65" stroke-width="2.08" stroke-linejoin="round"><path d="M124.45 190.09L119.24 200.51L129.66 200.51Z"/></g>
<path d="M104.85 221.8H142.35" stroke="#808080" stroke-width="1.92" stroke-dasharray="7.42 3.2" fill="none"/>
<g font-size="18.93" fill="#000">
<text x="158.3" y="171.9">New Ret.</text>
<text x="158.3" y="201.1">New+Diff</text>
<text x="158.3" y="228.9">No change (1:1)</text>
</g></g>
</svg>
</body></html>
